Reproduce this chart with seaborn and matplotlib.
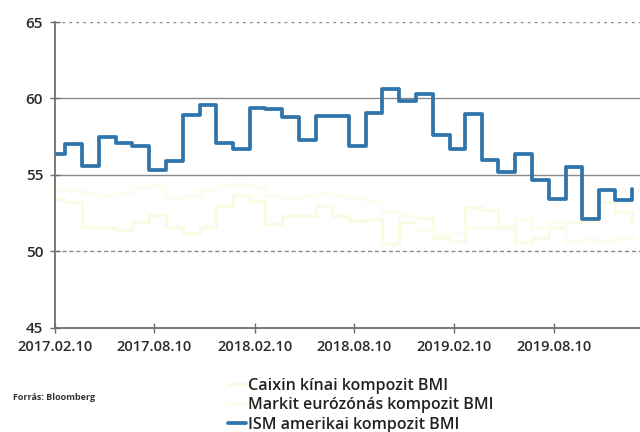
import matplotlib
matplotlib.use("Agg")
import matplotlib.pyplot as plt
import seaborn as sns
import pandas as pd

# Monthly composite PMI readings, Feb 2017 - Jan 2020
months = pd.date_range("2017-02-01", "2020-01-01", freq="MS")

ism_us = [56.4, 57.0, 55.6, 57.5, 57.1, 56.9, 55.3, 55.9, 58.9, 59.6, 57.1, 56.7,
          59.4, 59.3, 58.8, 57.3, 58.85, 58.85, 56.9, 59.05, 60.65, 59.85, 60.3, 57.6,
          56.7, 59.0, 56.0, 55.2, 56.4, 54.7, 53.4, 55.5, 52.1, 54.0, 53.35, 54.1]

caixin_cn = [53.4, 53.2, 51.6, 51.5, 51.4, 51.9, 52.4, 51.6, 51.2, 51.6, 53.0, 53.7,
             53.3, 51.8, 52.3, 52.3, 53.0, 52.3, 52.0, 52.1, 50.5, 51.9, 52.2, 50.9,
             50.7, 52.9, 52.7, 51.5, 50.6, 50.9, 51.6, 51.9, 52.0, 53.2, 52.6, 51.9]

markit_ez = [54.1, 54.0, 53.8, 53.6, 53.9, 54.2, 54.3, 53.5, 53.6, 54.0, 54.3, 54.4,
             54.2, 53.7, 53.4, 53.6, 53.9, 53.6, 53.5, 53.2, 52.6, 52.3, 51.4, 51.1,
             51.3, 51.5, 51.6, 51.7, 52.1, 51.5, 51.9, 50.6, 50.8, 50.6, 50.9, 51.0]

series_labels = ["Caixin kínai kompozit BMI",
                 "Markit eurózónás kompozit BMI",
                 "ISM amerikai kompozit BMI"]
series_colors = ["#fafbe4", "#fcfcef", "#2f74ab"]

tick_dates = pd.to_datetime(["2017-02-10", "2017-08-10", "2018-02-10",
                             "2018-08-10", "2019-02-10", "2019-08-10"])
tick_labels = [d.strftime("%Y.%m.%d") for d in tick_dates]
y_ticks = [45, 50, 55, 60, 65]

sns.set_theme(style="white")
plt.rcParams["font.family"] = ["Open Sans", "DejaVu Sans"]

fig = plt.figure(figsize=(6.4, 4.32), dpi=100)
ax = fig.add_axes([0.086, 0.241, 0.914, 0.708])

for vals, lab, col in zip([caixin_cn, markit_ez, ism_us], series_labels, series_colors):
    sns.lineplot(x=months, y=vals, ax=ax, drawstyle="steps-post",
                 color=col, linewidth=2.7 if col == "#2f74ab" else 2.4,
                 label=lab, legend=False)

ax.set_xlim(pd.Timestamp("2017-02-10"), pd.Timestamp("2020-01-15"))
ax.set_ylim(45, 65)
ax.set_yticks(y_ticks)
ax.set_yticklabels([str(v) for v in y_ticks], fontsize=11, color="#2a2a2a",
                   fontweight="semibold")
ax.set_xticks(tick_dates)
ax.set_xticklabels(tick_labels, fontsize=10.5, color="#2a2a2a",
                   fontweight="semibold")
ax.set_xlabel("")
ax.set_ylabel("")

# horizontal reference lines
for v, ls in [(50, (0, (3, 2))), (55, "-"), (60, "-"), (65, (0, (2, 3)))]:
    ax.axhline(v, color="#8a8a8a", linewidth=1.0, linestyle=ls, zorder=0)

for side in ["top", "right"]:
    ax.spines[side].set_visible(False)
for side in ["left", "bottom"]:
    ax.spines[side].set_color("#6e6e6e")
    ax.spines[side].set_linewidth(1.3)

ax.tick_params(axis="both", which="both", direction="inout", length=7,
               width=1.0, color="#6e6e6e", pad=5,
               left=True, bottom=True)

handles, labels = ax.get_legend_handles_labels()
leg = fig.legend(handles, labels, loc="upper left",
                 bbox_to_anchor=(0.347, 0.14), frameon=False,
                 prop={"size": 11.5, "weight": "semibold"},
                 handlelength=1.1, handletextpad=0.1,
                 labelspacing=0.22, borderaxespad=0.0)
for t in leg.get_texts():
    t.set_color("#222222")

fig.text(0.02, 0.075, "Forrás: Bloomberg", fontsize=6.5, fontweight="bold",
         color="#333333")

fig.savefig("out.png", dpi=100)
